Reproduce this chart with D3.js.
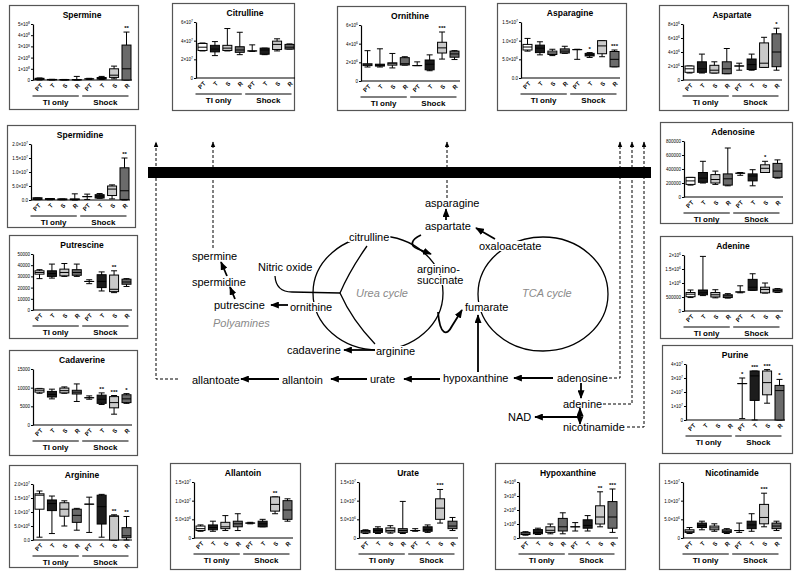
<!DOCTYPE html>
<html><head><meta charset="utf-8">
<script src="https://cdn.jsdelivr.net/npm/d3@7"></script>
<style>body{margin:0;background:#fff}</style>
</head><body><svg id="c" width="800" height="575"></svg>
<script>
// ---------------- DATA ----------------
const categories = ["PT","T","S","R"];
const groups = ["TI only","Shock"];
// each stats array: [min, q1, median, q3, max] for TI PT,T,S,R then Shock PT,T,S,R
const spermine = [[0,0.05,0.1,0.15,0.18],[0,0.02,0.03,0.05,0.06],[0,0.01,0.02,0.04,0.05],[0,0.01,0.02,0.04,0.32],
  [0.05,0.1,0.1,0.1,0.15],[0.05,0.08,0.15,0.22,0.32],[0.1,0.23,0.43,1.0,1.24],[0,0,1.0,3.12,4.28]];
const spermineStars = ["","","","","","","","**"];
const spermineTicks = [0,1,2,3,4,5];
const spermineTickLabels = ["0","1×10⁸","2×10⁸","3×10⁸","4×10⁸","5×10⁸"];

const citrulline = [[2.9,2.95,3.3,3.7,3.75],[2.4,2.8,3.1,3.5,3.9],[2.9,2.95,3.2,3.5,5.3],[2.5,2.75,3.0,3.35,4.9],
  [2.85,2.9,2.9,2.9,3.55],[2.5,2.55,3.0,3.2,3.2],[2.9,3.05,3.6,3.95,4.2],[3.1,3.1,3.3,3.6,3.65]];
const citrullineStars = ["","","","","","","",""];
const citrullineTicks = [0,2,4,6];
const citrullineTickLabels = ["0","2×10⁷","4×10⁷","6×10⁷"];

const ornithine = [[1.5,1.65,1.75,1.85,3.25],[1.5,1.6,1.7,1.8,3.45],[1.4,1.7,1.85,1.95,2.95],[1.7,1.72,1.85,2.5,2.6],
  [1.65,1.65,1.65,1.65,2.05],[1.1,1.2,1.8,2.25,2.8],[2.35,3.0,3.55,4.15,5.25],[2.3,2.55,2.9,3.2,3.25]];
const ornithineStars = ["","","","","","","***",""];
const ornithineTicks = [0,2,4,6];
const ornithineTickLabels = ["0","2×10⁶","4×10⁶","6×10⁶"];

const asparagine = [[0.72,0.75,0.83,0.9,1.06],[0.62,0.68,0.8,0.88,0.97],[0.6,0.63,0.67,0.72,0.77],[0.66,0.67,0.72,0.78,0.85],
  [0.5,0.76,0.76,0.76,0.77],[0.55,0.59,0.62,0.66,0.68],[0.57,0.65,0.86,1.0,1.0],[0.3,0.3,0.5,0.71,0.75]];
const asparagineStars = ["","","","","","*","","***"];
const asparagineTicks = [0,0.5,1.0,1.5];
const asparagineTickLabels = ["0.0","5.0×10⁶","1.0×10⁷","1.5×10⁷"];

const aspartate = [[1.0,1.1,1.6,2.0,2.0],[1.0,1.1,1.6,2.6,3.7],[1.0,1.0,1.4,2.1,2.6],[0.9,0.9,1.6,2.6,4.5],
  [1.4,2.0,2.0,2.0,2.4],[1.4,1.5,2.2,3.0,3.7],[1.8,1.8,2.4,5.3,6.1],[1.4,1.9,4.0,6.6,7.4]];
const aspartateStars = ["","","","","","","","*"];
const aspartateTicks = [0,2,4,6,8];
const aspartateTickLabels = ["0","2×10⁶","4×10⁶","6×10⁶","8×10⁶"];

const spermidine = [[0.01,0.02,0.05,0.08,0.08],[0.01,0.02,0.03,0.05,0.05],[0.01,0.01,0.02,0.04,0.04],[0,0.01,0.02,0.04,0.22],
  [0.02,0.12,0.12,0.12,0.21],[0.06,0.07,0.14,0.19,0.23],[0.04,0.16,0.39,0.5,0.54],[0,0.02,0.33,1.15,1.5]];
const spermidineStars = ["","","","","","","","**"];
const spermidineTicks = [0,0.5,1.0,1.5,2.0];
const spermidineTickLabels = ["0.0","5.0×10⁶","1.0×10⁷","1.5×10⁷","2.0×10⁷"];

const putrescine = [[28000,32000,33500,35000,36000],[28500,30000,32500,35000,41000],[30000,30500,33500,36500,41500],[30000,31000,33500,36000,41000],
  [23500,25500,25500,25500,27000],[17000,20000,25500,31500,34000],[15500,16400,18500,31200,35000],[21000,23000,25000,27500,28000]];
const putrescineStars = ["","","","","","","**",""];
const putrescineTicks = [0,10000,20000,30000,40000,50000];
const putrescineTickLabels = ["0","10000","20000","30000","40000","50000"];

const cadaverine = [[8500,8800,9300,9700,9800],[7000,7500,8200,9000,9600],[8500,8600,9200,9900,10200],[6300,8300,8800,9300,11000],
  [6900,7300,7300,7300,7800],[5500,5800,6900,8000,8600],[2900,4600,6000,7600,7900],[5800,6000,7000,8100,8400]];
const cadaverineStars = ["","","","","","**","***","*"];
const cadaverineTicks = [0,5000,10000,15000];
const cadaverineTickLabels = ["0","5000","10000","15000"];

const arginine = [[0.1,1.1,1.6,1.65,1.75],[0.23,1.05,1.3,1.43,1.57],[0.5,0.85,1.1,1.33,1.4],[0.35,0.63,0.88,1.1,1.13],
  [0.27,1.28,1.28,1.28,1.53],[0.1,0.57,1.19,1.6,1.63],[0,0,0.85,0.86,0.9],[0,0.08,0.15,0.44,0.84]];
const arginineStars = ["","","","","","","**","**"];
const arginineTicks = [0,0.5,1.0,1.5,2.0];
const arginineTickLabels = ["0.0","5.0×10⁶","1.0×10⁷","1.5×10⁷","2.0×10⁷"];

const allantoin = [[0.18,0.2,0.25,0.32,0.35],[0.18,0.22,0.28,0.35,0.45],[0.2,0.25,0.3,0.42,0.6],[0.2,0.3,0.38,0.45,0.65],
  [0.38,0.4,0.4,0.4,0.42],[0.3,0.3,0.38,0.45,0.5],[0.65,0.72,0.9,1.1,1.1],[0.45,0.5,0.75,1.0,1.05]];
const allantoinStars = ["","","","","","","**",""];
const allantoinTicks = [0,0.5,1.0,1.5];
const allantoinTickLabels = ["0","5.0×10⁶","1.0×10⁷","1.5×10⁷"];

const urate = [[0.12,0.14,0.17,0.2,0.22],[0.12,0.15,0.2,0.25,0.3],[0.13,0.16,0.2,0.27,0.33],[0.12,0.15,0.2,0.25,0.98],
  [0.18,0.2,0.2,0.2,0.25],[0.15,0.18,0.22,0.3,0.35],[0.4,0.5,0.8,1.05,1.3],[0.2,0.25,0.32,0.45,0.55]];
const urateStars = ["","","","","","","***",""];
const urateTicks = [0,0.5,1.0,1.5];
const urateTickLabels = ["0","5.0×10⁶","1.0×10⁷","1.5×10⁷"];

const hypoxanthine = [[0.2,0.25,0.3,0.4,0.45],[0.25,0.3,0.4,0.6,0.7],[0.3,0.4,0.55,0.8,1.0],[0.3,0.5,0.8,1.4,1.8],
  [0.5,0.8,0.8,0.8,1.1],[0.5,0.7,0.9,1.3,1.6],[0.8,1.0,1.5,2.3,3.3],[0.4,0.7,1.5,2.6,3.5]];
const hypoxanthineStars = ["","","","","","","**","***"];
const hypoxanthineTicks = [0,1,2,3,4];
const hypoxanthineTickLabels = ["0","1×10⁸","2×10⁸","3×10⁸","4×10⁸"];

const nicotinamide = [[0.12,0.15,0.18,0.22,0.28],[0.22,0.28,0.33,0.4,0.45],[0.18,0.22,0.27,0.32,0.38],[0.12,0.15,0.18,0.22,0.25],
  [0.15,0.2,0.2,0.2,0.4],[0.18,0.25,0.35,0.45,0.65],[0.3,0.38,0.55,0.9,1.2],[0.2,0.25,0.32,0.4,0.45]];
const nicotinamideStars = ["","","","","","","***",""];
const nicotinamideTicks = [0,0.5,1.0,1.5];
const nicotinamideTickLabels = ["0","5.0×10⁶","1.0×10⁷","1.5×10⁷"];

const adenosine = [[170000,180000,230000,280000,280000],[200000,210000,270000,350000,510000],[180000,200000,250000,320000,370000],[160000,170000,260000,330000,700000],
  [310000,340000,340000,340000,350000],[160000,230000,300000,330000,390000],[350000,350000,410000,460000,510000],[270000,280000,370000,480000,530000]];
const adenosineStars = ["","","","","","","*",""];
const adenosineTicks = [0,200000,400000,600000,800000];
const adenosineTickLabels = ["0","200000","400000","600000","800000"];

const adenine = [[480000,510000,600000,660000,750000],[550000,580000,650000,750000,1950000],[470000,500000,580000,660000,760000],[460000,480000,540000,580000,620000],
  [650000,680000,680000,680000,900000],[740000,740000,850000,1130000,1330000],[640000,650000,770000,850000,1000000],[660000,680000,730000,780000,800000]];
const adenineStars = ["","","","","","","",""];
const adenineTicks = [0,500000,1000000,1500000,2000000];
const adenineTickLabels = ["0","500000","1×10⁶","1.5×10⁶","2×10⁶"];

const purine = [null,null,null,null,
  [0.1,2.6,2.6,2.6,3.0],[0,1.4,3.15,3.5,3.5],[1.2,1.8,2.67,3.5,3.6],[0,0,2.1,2.47,2.9]];
const purineStars = ["","","","","*","***","***","*"];
const purineTicks = [0,1,2,3,4];
const purineTickLabels = ["0","1×10⁷","2×10⁷","3×10⁷","4×10⁷"];

// ---------------- LAYOUT / STYLE ----------------
const FONT = "Arial, 'Liberation Sans', sans-serif";
const fills = ["#ffffff","#1c1c1c","#c9c9c9","#6b6b6b"];
const panels = [
  {title:"Spermine", stats:spermine, stars:spermineStars, ticks:spermineTicks, labels:spermineTickLabels, x:9,y:5,w:129,h:104},
  {title:"Citrulline", stats:citrulline, stars:citrullineStars, ticks:citrullineTicks, labels:citrullineTickLabels, x:172,y:3,w:122,h:107},
  {title:"Ornithine", stats:ornithine, stars:ornithineStars, ticks:ornithineTicks, labels:ornithineTickLabels, x:337,y:6,w:128,h:104},
  {title:"Asparagine", stats:asparagine, stars:asparagineStars, ticks:asparagineTicks, labels:asparagineTickLabels, x:497,y:3,w:129,h:107},
  {title:"Aspartate", stats:aspartate, stars:aspartateStars, ticks:aspartateTicks, labels:aspartateTickLabels, x:659,y:5,w:129,h:105},
  {title:"Spermidine", stats:spermidine, stars:spermidineStars, ticks:spermidineTicks, labels:spermidineTickLabels, x:7,y:125,w:128,h:102},
  {title:"Putrescine", stats:putrescine, stars:putrescineStars, ticks:putrescineTicks, labels:putrescineTickLabels, x:9,y:235,w:128,h:103},
  {title:"Cadaverine", stats:cadaverine, stars:cadaverineStars, ticks:cadaverineTicks, labels:cadaverineTickLabels, x:9,y:350,w:128,h:105},
  {title:"Arginine", stats:arginine, stars:arginineStars, ticks:arginineTicks, labels:arginineTickLabels, x:9,y:465,w:128,h:102},
  {title:"Allantoin", stats:allantoin, stars:allantoinStars, ticks:allantoinTicks, labels:allantoinTickLabels, x:170,y:463,w:130,h:106},
  {title:"Urate", stats:urate, stars:urateStars, ticks:urateTicks, labels:urateTickLabels, x:335,y:463,w:128,h:106},
  {title:"Hypoxanthine", stats:hypoxanthine, stars:hypoxanthineStars, ticks:hypoxanthineTicks, labels:hypoxanthineTickLabels, x:495,y:463,w:130,h:106},
  {title:"Nicotinamide", stats:nicotinamide, stars:nicotinamideStars, ticks:nicotinamideTicks, labels:nicotinamideTickLabels, x:659,y:463,w:131,h:106},
  {title:"Adenosine", stats:adenosine, stars:adenosineStars, ticks:adenosineTicks, labels:adenosineTickLabels, x:660,y:122,w:132,h:101},
  {title:"Adenine", stats:adenine, stars:adenineStars, ticks:adenineTicks, labels:adenineTickLabels, x:660,y:236,w:132,h:102},
  {title:"Purine", stats:purine, stars:purineStars, ticks:purineTicks, labels:purineTickLabels, x:662,y:345,w:130,h:108}
];

const svg = d3.select("#c").attr("font-family", FONT);
svg.append("rect").attr("width",800).attr("height",575).attr("fill","#fff");
const defs = svg.append("defs");
defs.append("marker").attr("id","ah").attr("viewBox","0 0 10 8").attr("refX",9).attr("refY",4)
  .attr("markerWidth",9).attr("markerHeight",7).attr("markerUnits","userSpaceOnUse").attr("orient","auto")
  .append("path").attr("d","M0,0L10,4L0,8z").attr("fill","#000");
defs.append("marker").attr("id","ahs").attr("viewBox","0 0 10 8").attr("refX",9).attr("refY",4)
  .attr("markerWidth",6).attr("markerHeight",5).attr("markerUnits","userSpaceOnUse").attr("orient","auto")
  .append("path").attr("d","M0,0L10,4L0,8z").attr("fill","#000");

const catKeys = groups.flatMap(g => categories.map(c => g + "|" + c));
const SUP = "⁰¹²³⁴⁵⁶⁷⁸⁹";

function setTickText(sel, label){
  sel.text(null);
  const m = label.match(/^(.*×10)([⁰¹²³⁴⁵⁶⁷⁸⁹]+)$/);
  if(!m){ sel.text(label); return; }
  sel.append("tspan").text(m[1]);
  const exp = m[2].split("").map(ch => SUP.indexOf(ch)).join("");
  sel.append("tspan").attr("dy",-1.8).attr("font-size",3.4).text(exp);
}

function drawPanel(p){
  const g = svg.append("g").attr("transform", `translate(${p.x},${p.y})`);
  g.append("rect").attr("x",0.5).attr("y",0.5).attr("width",p.w).attr("height",p.h)
    .attr("fill","#fff").attr("stroke","#555").attr("stroke-width",1.2);
  g.append("text").attr("x",73).attr("y",13).attr("text-anchor","middle")
    .attr("font-weight","bold").attr("font-size",8.5).text(p.title);
  const y = d3.scaleLinear().domain([0, d3.max(p.ticks)]).range([75,19]);
  const x = d3.scalePoint().domain(catKeys).range([30.5,117.5]);
  const ax = g.append("g").attr("transform","translate(24,0)")
    .call(d3.axisLeft(y).tickValues(p.ticks).tickFormat((d,i)=>p.labels[i]).tickSize(2).tickSizeOuter(0).tickPadding(1));
  ax.select(".domain").attr("stroke","#000").attr("stroke-width",1.2);
  ax.selectAll(".tick text").attr("font-size",4.5).attr("font-family",FONT).attr("fill","#000")
    .each(function(d,i){ setTickText(d3.select(this), p.labels[i]); });
  ax.selectAll(".tick line").attr("stroke","#000");
  g.append("line").attr("x1",24).attr("x2",123).attr("y1",y(0)).attr("y2",y(0)).attr("stroke","#000").attr("stroke-width",1.2);
  const xa = g.append("g").attr("transform",`translate(0,${y(0)})`)
    .call(d3.axisBottom(x).tickSize(0).tickFormat(d=>d.split("|")[1]));
  xa.select(".domain").remove();
  xa.selectAll("text").attr("y",0).attr("dy",0).attr("transform","translate(3,6) rotate(-45)")
    .attr("text-anchor","end").attr("font-size",6).attr("font-weight","bold").attr("font-family",FONT).attr("fill","#000");
  const bw = 9, cw = 6;
  p.stats.forEach((s,i)=>{
    if(!s) return;
    const cx = x(catKeys[i]);
    const [mn,q1,md,q3,mx] = s;
    const b = g.append("g");
    b.append("line").attr("x1",cx).attr("x2",cx).attr("y1",y(mn)).attr("y2",y(mx)).attr("stroke","#000").attr("stroke-width",1);
    [mn,mx].forEach(v=> b.append("line").attr("x1",cx-cw/2).attr("x2",cx+cw/2).attr("y1",y(v)).attr("y2",y(v)).attr("stroke","#000").attr("stroke-width",1));
    b.append("rect").attr("x",cx-bw/2).attr("y",y(q3)).attr("width",bw).attr("height",Math.max(0.01,y(q1)-y(q3)))
      .attr("fill",fills[i%4]).attr("stroke","#000").attr("stroke-width",1);
    b.append("line").attr("x1",cx-bw/2).attr("x2",cx+bw/2).attr("y1",y(md)).attr("y2",y(md)).attr("stroke","#000").attr("stroke-width",1);
    if(p.stars[i]) g.append("text").attr("x",cx).attr("y",y(mx)-2).attr("text-anchor","middle")
      .attr("font-size",6).attr("font-weight","bold").text(p.stars[i]);
  });
  groups.forEach((gr,gi)=>{
    const x1 = x(catKeys[gi*4]) - 7, x2 = x(catKeys[gi*4+3]) + 2;
    g.append("line").attr("x1",x1).attr("x2",x2).attr("y1",91).attr("y2",91).attr("stroke","#000").attr("stroke-width",1);
    g.append("text").attr("x",(x1+x2)/2).attr("y",100).attr("text-anchor","middle")
      .attr("font-size",8).attr("font-weight","bold").text(gr);
  });
}

// ---------------- CENTRAL DIAGRAM ----------------
const dg = svg.append("g");
dg.append("rect").attr("x",148).attr("y",167).attr("width",503).attr("height",11).attr("fill","#000");
const dashed = ["M178,379H156V142","M213,248V142","M447,198V142","M609,378H620V142","M603,404H632V142","M627,427H644V142"];
dashed.forEach(d=> dg.append("path").attr("d",d).attr("fill","none").attr("stroke","#000")
  .attr("stroke-width",1).attr("stroke-dasharray","3,2").attr("marker-end","url(#ahs)"));

dg.append("ellipse").attr("cx",378).attr("cy",293).attr("rx",65).attr("ry",57).attr("fill","none").attr("stroke","#000").attr("stroke-width",1.3);
dg.append("ellipse").attr("cx",543).attr("cy",294).attr("rx",65).attr("ry",57).attr("fill","none").attr("stroke","#000").attr("stroke-width",1.3);
dg.append("path").attr("d","M367,246 Q350,270 340,293 Q352,320 375,344").attr("fill","none").attr("stroke","#000").attr("stroke-width",1.3);
dg.append("path").attr("d","M275,276 Q276,292 292,292 L340,293").attr("fill","none").attr("stroke","#000").attr("stroke-width",1.3);

const arrows = ["M227,276L221,262","M235,299L230,287","M288,305L271,305","M375,350L344,350",
  "M367,379L331,379","M279,379L241,379","M440,379L404,379","M553,378L514,378","M581,383L581,398",
  "M580,417L580,408","M580,417L580,424","M580,417L535,417","M446,220L446,209","M495,239L476,228",
  "M478,372L478,315","M421,235 C410,240 410,246 418,249 L431,254","M438,312 C440,336 447,336 452,326 L462,310"];
arrows.forEach(d=> dg.append("path").attr("d",d).attr("fill","none").attr("stroke","#000")
  .attr("stroke-width",1.8).attr("marker-end","url(#ah)"));

const nodeLabels = [
  ["spermine",192,256,0,0],["spermidine",192,282,0,0],["putrescine",214,305,0,0],["Polyamines",213,323,1,0],
  ["Nitric oxide",258,267,0,0],["ornithine",290,307,0,1],["citrulline",349,237,0,1],["arginino-",417,269,0,1],
  ["succinate",417,280,0,1],["Urea cycle",356,293,1,0],["cadaverine",287,350,0,0],["arginine",376,351,0,1],
  ["allantoate",192,380,0,0],["allantoin",282,380,0,0],["urate",370,379,0,0],["hypoxanthine",443,378,0,0],
  ["asparagine",425,203,0,0],["aspartate",425,226,0,0],["oxaloacetate",479,246,0,1],["TCA cycle",522,293,1,0],
  ["fumarate",465,307,0,1],["adenosine",557,378,0,0],["adenine",563,404,0,0],["NAD",508,417,0,0],["nicotinamide",563,427,0,0]
];
nodeLabels.forEach(([t,x,y,it,bg])=>{
  const tx = dg.append("text").attr("x",x).attr("y",y+4).attr("font-size",11)
    .attr("fill", it ? "#8a8a8a" : "#000").attr("font-style", it ? "italic" : "normal").text(t);
  if(bg){
    const bb = tx.node().getBBox();
    dg.insert("rect", () => tx.node()).attr("x",bb.x-1).attr("y",bb.y+1).attr("width",bb.width+2).attr("height",bb.height-2).attr("fill","#fff");
  }
});

panels.forEach(drawPanel);
</script>
</body></html>
